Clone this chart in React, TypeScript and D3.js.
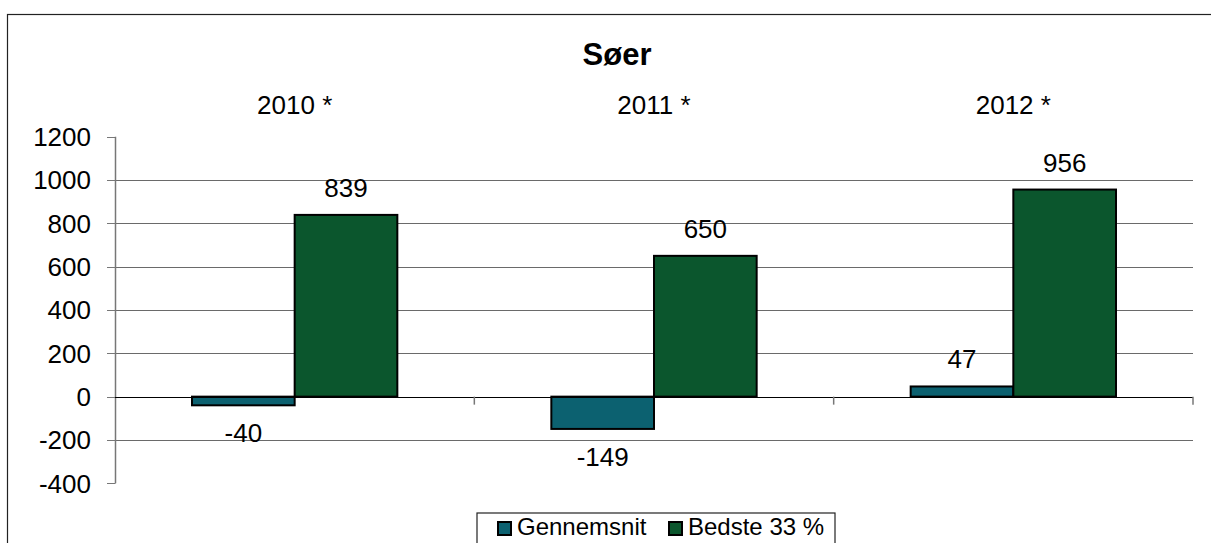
import React from "react";
import * as d3 from "d3";

const width = 1211;
const height = 543;

const years = ["2010 *", "2011 *", "2012 *"];
const seriesNames = ["Gennemsnit", "Bedste 33 %"];
const gennemsnit = [-40, -149, 47];
const bedste = [839, 650, 956];
const yTicks = [-400, -200, 0, 200, 400, 600, 800, 1000, 1200];
const colors = ["#0c6170", "#0b562d"];

const margin = { left: 115, right: 18, top: 137, bottom: 60 };
const font = "Arial, 'Liberation Sans', sans-serif";

export default function App() {
  const x = d3
    .scaleBand()
    .domain(years)
    .range([margin.left, width - margin.right]);
  const y = d3.scaleLinear().domain([-400, 1200]).range([483.3, 136.7]);

  const bw = x.bandwidth() / 3.5;
  const series = [gennemsnit, bedste];

  return (
    <svg
      width={width}
      height={height}
      style={{ position: "absolute", left: 0, top: 0, background: "#fff" }}
      fontFamily={font}
    >
      <rect x={7.5} y={14.5} width={width} height={height} fill="none" stroke="#222" strokeWidth={1.2} />
      <text x={617} y={65} textAnchor="middle" fontSize={31} fontWeight="bold">
        Søer
      </text>

      {/* grid */}
      {yTicks.filter((t) => t !== 0 && t !== 1200 && t !== -400).map((t) => (
        <line key={t} x1={margin.left} x2={width - margin.right} y1={Math.round(y(t)) + 0.5} y2={Math.round(y(t)) + 0.5} stroke="#6a6a6a" strokeWidth={1} />
      ))}

      {/* y axis */}
      <line x1={115.5} x2={115.5} y1={y(1200)} y2={y(-400)} stroke="#777" strokeWidth={1.5} />
      {yTicks.map((t) => (
        <g key={t}>
          <line x1={107} x2={115.5} y1={Math.round(y(t)) + 0.5} y2={Math.round(y(t)) + 0.5} stroke="#777" strokeWidth={1} />
          <text x={91} y={y(t) + 9.3} textAnchor="end" fontSize={26}>
            {t}
          </text>
        </g>
      ))}

      {/* category labels */}
      {years.map((c) => (
        <text key={c} x={x(c)! + x.bandwidth() / 2} y={114} textAnchor="middle" fontSize={26}>
          {c}
        </text>
      ))}

      {/* bars */}
      {years.map((c, i) =>
        series.map((s, j) => {
          const v = s[i];
          const x0 = x(c)! + 0.75 * bw + j * bw;
          const top = y(Math.max(0, v));
          const bot = y(Math.min(0, v));
          return (
            <g key={c + j}>
              <rect x={x0} y={top} width={bw} height={bot - top} fill={colors[j]} stroke="#000" strokeWidth={2} />
              <text
                x={x0 + bw / 2}
                y={v >= 0 ? top - 18 : bot + 37}
                textAnchor="middle"
                fontSize={26}
              >
                {v}
              </text>
            </g>
          );
        })
      )}

      {/* zero axis */}
      <line x1={margin.left} x2={width - margin.right} y1={Math.round(y(0)) + 0.5} y2={Math.round(y(0)) + 0.5} stroke="#000" strokeWidth={1} />
      {years.map((c) => (
        <line key={c} x1={x(c)! + x.bandwidth()} x2={x(c)! + x.bandwidth()} y1={y(0)} y2={y(0) + 8} stroke="#777" strokeWidth={1.5} />
      ))}

      {/* legend */}
      <rect x={477} y={513} width={358} height={40} fill="#fff" stroke="#222" strokeWidth={1.2} />
      {seriesNames.map((n, j) => {
        const lx = j === 0 ? 497 : 668;
        return (
          <g key={n}>
            <rect x={lx + 1} y={522} width={13} height={13} fill={colors[j]} stroke="#000" strokeWidth={2} />
            <text x={lx + 20} y={535} fontSize={24}>
              {n}
            </text>
          </g>
        );
      })}
    </svg>
  );
}
